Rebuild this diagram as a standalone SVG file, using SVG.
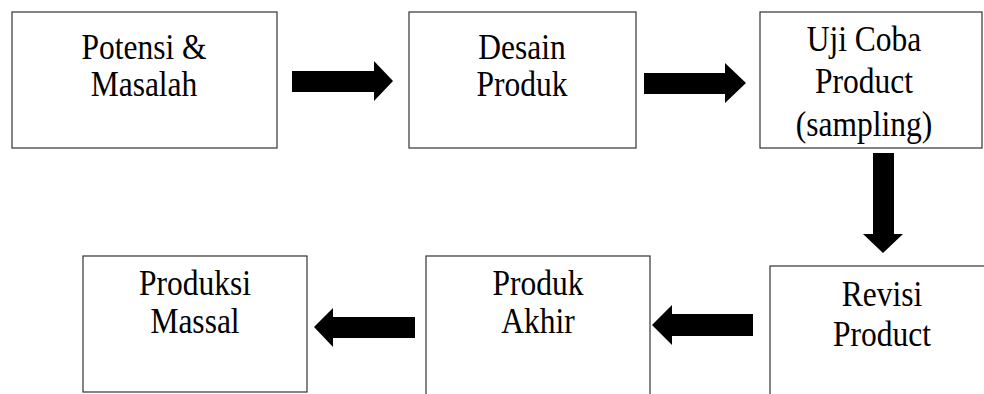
<svg xmlns="http://www.w3.org/2000/svg" width="984" height="394" viewBox="0 0 984 394">
<style>
  .box { fill: #ffffff; stroke: #333333; stroke-width: 1.2; }
  .lbl { font-family: 'Liberation Serif', 'Times New Roman', Times, serif; font-size: 35px; fill: #000000; text-anchor: middle; }
  .arr { fill: #000000; stroke: none; }
</style>
<rect x="0" y="0" width="984" height="394" fill="#ffffff"/>
<g id="connectors">
  <polygon class="arr" points="292,71 374,71 374,61 393,81 374,101 374,92 292,92"/>
  <polygon class="arr" points="644,73 725,73 725,63 746,83 725,103 725,94 644,94"/>
  <polygon class="arr" points="873,153 894,153 894,234 903,234 883,253 863,234 873,234"/>
  <polygon class="arr" points="753,314 672,314 672,305 652,325 672,345 672,336 753,336"/>
  <polygon class="arr" points="415,317 333,317 333,308 314,327 333,347 333,338 415,338"/>
</g>
<g id="node-potensi">
  <rect class="box" x="12" y="12" width="265" height="136"/>
  <text class="lbl" transform="translate(144,59) scale(0.9,1)">Potensi &amp;</text>
  <text class="lbl" transform="translate(144,96) scale(0.9,1)">Masalah</text>
</g>
<g id="node-desain">
  <rect class="box" x="409" y="12" width="227" height="136"/>
  <text class="lbl" transform="translate(522,59) scale(0.9,1)">Desain</text>
  <text class="lbl" transform="translate(522,96) scale(0.9,1)">Produk</text>
</g>
<g id="node-ujicoba">
  <rect class="box" x="760" y="12" width="222" height="136"/>
  <text class="lbl" transform="translate(864,51) scale(0.9,1)">Uji Coba</text>
  <text class="lbl" transform="translate(864,93) scale(0.9,1)">Product</text>
  <text class="lbl" transform="translate(864,136) scale(0.9,1)">(sampling)</text>
</g>
<g id="node-revisi">
  <rect class="box" x="770" y="266" width="240" height="140"/>
  <text class="lbl" transform="translate(882,306) scale(0.9,1)">Revisi</text>
  <text class="lbl" transform="translate(882,346) scale(0.9,1)">Product</text>
</g>
<g id="node-akhir">
  <rect class="box" x="426" y="256" width="224" height="150"/>
  <text class="lbl" transform="translate(538,295) scale(0.9,1)">Produk</text>
  <text class="lbl" transform="translate(538,333) scale(0.9,1)">Akhir</text>
</g>
<g id="node-produksi">
  <rect class="box" x="83" y="256" width="224" height="136"/>
  <text class="lbl" transform="translate(195,295) scale(0.9,1)">Produksi</text>
  <text class="lbl" transform="translate(195,333) scale(0.9,1)">Massal</text>
</g>
</svg>
